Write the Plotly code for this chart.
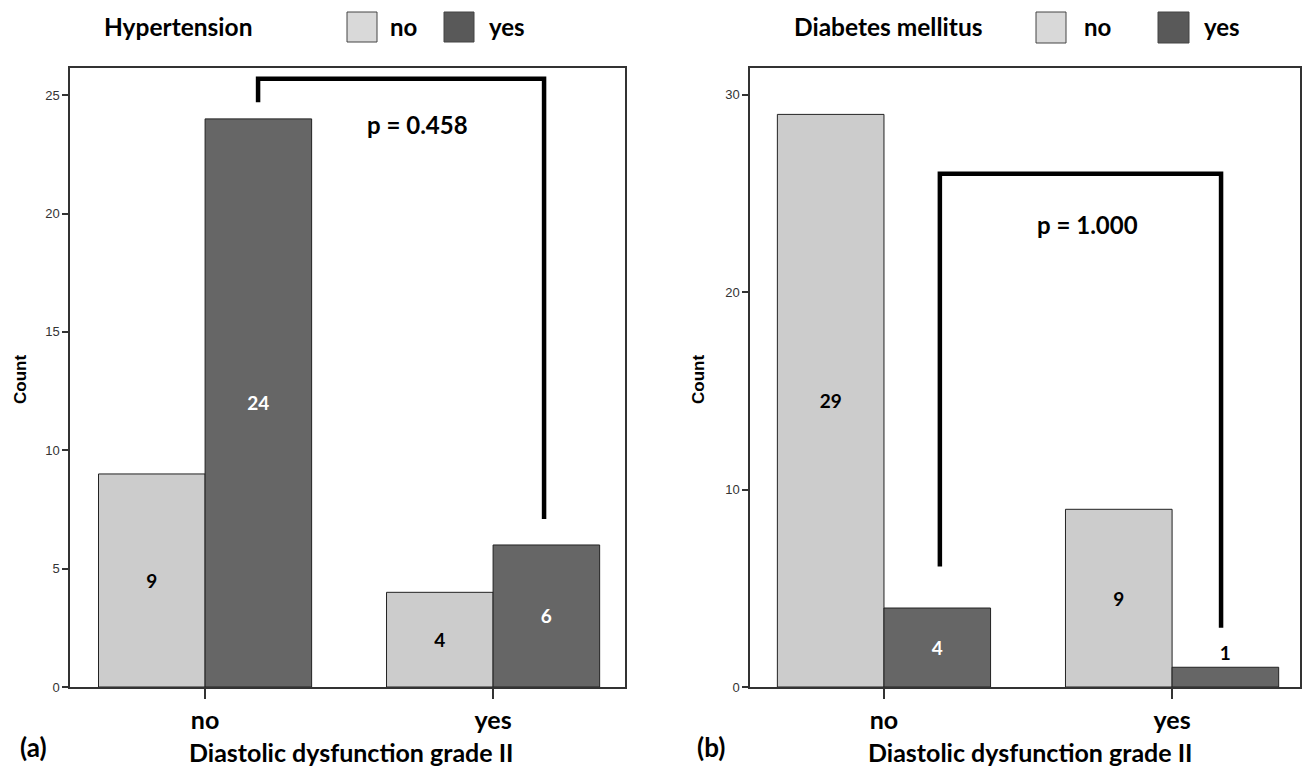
import plotly.graph_objects as go

# ---- data ----
categories = ["no", "yes"]            # Diastolic dysfunction grade II
htn_no = [9, 4]                        # Hypertension: no
htn_yes = [24, 6]                      # Hypertension: yes
dm_no = [29, 9]                        # Diabetes mellitus: no
dm_yes = [4, 1]                        # Diabetes mellitus: yes
p_htn = "p = 0.458"
p_dm = "p = 1.000"
yticks_a = [0, 5, 10, 15, 20, 25]
yticks_b = [0, 10, 20, 30]

W, H = 1308, 772
LIGHT = "#cccccc"
DARK = "#666666"
BOLD = "Lato"
SANS = "Liberation Sans"

def bf(size, color="black"):
    return dict(family=BOLD, size=size, color=color, weight="bold")

def px(x):
    return x / W

def py(y):
    return 1 - y / H

def tpos(vals):
    return ["inside" if v >= 2 else "outside" for v in vals]

fig = go.Figure()

def add_bars(xa, ya, no_vals, yes_vals):
    fig.add_trace(go.Bar(
        x=categories, y=no_vals, xaxis=xa, yaxis=ya, name="no",
        marker=dict(color=LIGHT, line=dict(color="#222222", width=1)),
        text=[str(v) for v in no_vals], textposition=tpos(no_vals),
        insidetextanchor="middle", textangle=0,
        insidetextfont=bf(19), outsidetextfont=bf(19),
        showlegend=False, cliponaxis=False, hoverinfo="skip"))
    fig.add_trace(go.Bar(
        x=categories, y=yes_vals, xaxis=xa, yaxis=ya, name="yes",
        marker=dict(color=DARK, line=dict(color="#222222", width=1)),
        text=[str(v) for v in yes_vals], textposition=tpos(yes_vals),
        insidetextanchor="middle", textangle=0,
        insidetextfont=bf(19, "white"), outsidetextfont=bf(19),
        showlegend=False, cliponaxis=False, hoverinfo="skip"))

add_bars("x", "y", htn_no, htn_yes)
add_bars("x2", "y2", dm_no, dm_yes)

xcommon = dict(type="category", showline=True, mirror=True, linecolor="#333333",
               linewidth=1.5, ticks="outside", ticklen=10, tickwidth=1.5,
               tickcolor="#333333", showgrid=False, zeroline=False,
               tickfont=bf(25), automargin=False)
ycommon = dict(showline=True, mirror=True, linecolor="#333333", linewidth=1.5,
               ticks="outside", ticklen=6, tickwidth=1.5, tickcolor="#333333",
               showgrid=False, zeroline=False, automargin=False,
               tickfont=dict(family=SANS, size=13, color="#333333"))

fig.update_layout(
    width=W, height=H, margin=dict(l=0, r=0, t=0, b=0, pad=0),
    paper_bgcolor="white", plot_bgcolor="white",
    barmode="group", bargap=0.26, bargroupgap=0,
    xaxis=dict(xcommon, domain=[px(70), px(625)], range=[-0.469, 1.458], anchor="y"),
    yaxis=dict(ycommon, domain=[py(687), py(68)], range=[0, 26.15],
               tickvals=yticks_a, anchor="x"),
    xaxis2=dict(xcommon, domain=[px(750), px(1300)], range=[-0.465, 1.444], anchor="y2"),
    yaxis2=dict(ycommon, domain=[py(687), py(68)], range=[0, 31.35],
                tickvals=yticks_b, anchor="x2"),
)

shapes = []
annotations = []

def bracket(xr, yr, x0, x1, y_start, y_top, y_end):
    pts = [(x0, y_start), (x0, y_top), (x1, y_top), (x1, y_end)]
    path = "M " + " L ".join(f"{a},{b}" for a, b in pts)
    shapes.append(dict(type="path", path=path, xref=xr, yref=yr,
                       line=dict(color="black", width=4.5)))

# brackets linking the compared bars
bracket("x", "y", 0.184, 1.177, max(htn_yes[0], htn_no[0]) + 0.7, 25.7, htn_yes[1] + 1.1)
bracket("x2", "y2", 0.194, 1.170, dm_yes[0] + 2.1, 26.0, dm_yes[1] + 2.0)

annotations.append(dict(x=0.736, y=23.75, xref="x", yref="y", text=p_htn, showarrow=False,
                        xanchor="center", yanchor="middle", font=bf(24)))
annotations.append(dict(x=0.705, y=23.4, xref="x2", yref="y2", text=p_dm, showarrow=False,
                        xanchor="center", yanchor="middle", font=bf(24)))

def ann(text, x, y, font, angle=0):
    annotations.append(dict(x=px(x), y=py(y), xref="paper", yref="paper", text=text,
                            showarrow=False, xanchor="center", yanchor="middle",
                            textangle=angle, font=font))

# legends drawn as swatches + text
def legend(title, tc, sw1, tno, sw2, tyes, ytop, ybot):
    yc = (ytop + ybot) / 2
    ann(title, tc, yc - 1, bf(24.5))
    for (a, b), col in ((sw1, "#d9d9d9"), (sw2, "#595959")):
        shapes.append(dict(type="rect", xref="paper", yref="paper",
                           x0=px(a), x1=px(b), y0=py(ybot), y1=py(ytop),
                           fillcolor=col, line=dict(color="#444444", width=1)))
    ann("no", tno, yc - 1, bf(24))
    ann("yes", tyes, yc - 1, bf(24))

legend("Hypertension", 178, (347, 377), 403, (444, 474), 507, 12, 42)
legend("Diabetes mellitus", 888, (1036, 1066), 1097, (1158, 1189), 1222, 12, 43)

# axis titles and panel labels
for xx in (20, 698):
    ann("Count", xx, 380, dict(family=SANS, size=17, color="black", weight="bold"), -90)
ann("Diastolic dysfunction grade II", 351, 752, bf(25))
ann("Diastolic dysfunction grade II", 1030, 752, bf(25))
ann("(a)", 33, 747, bf(26))
ann("(b)", 711, 747, bf(26))

fig.update_layout(shapes=shapes, annotations=annotations,
                  font=dict(family=BOLD, color="black"))

fig.write_html("out.html", config={"responsive": False, "displayModeBar": False},
               post_script="document.body.style.margin='0';document.body.style.overflow='hidden';")
